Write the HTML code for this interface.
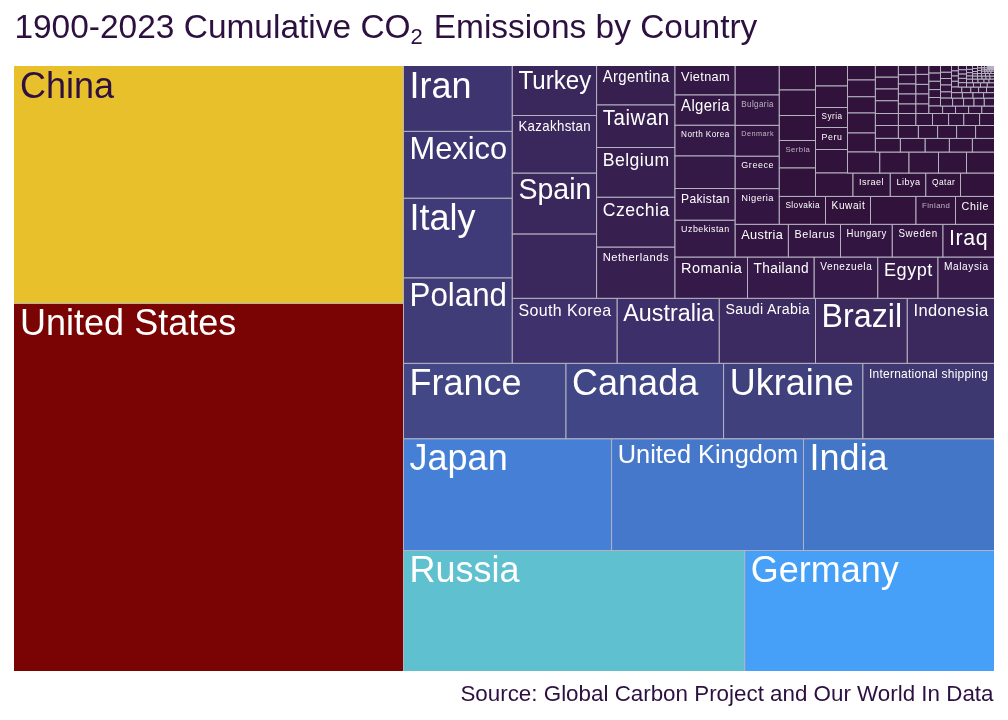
<!DOCTYPE html>
<html lang="en"><head><meta charset="utf-8"><title>1900-2023 Cumulative CO2 Emissions by Country</title>
<style>
html,body{margin:0;padding:0;background:#fff;}
body{width:1008px;height:720px;overflow:hidden;position:relative;font-family:"Liberation Sans",sans-serif;}
svg{position:absolute;left:0;top:0;display:block;will-change:transform;opacity:0.999;}
svg text{font-family:"Liberation Sans",sans-serif;}
.r{stroke:#b4b2c0;stroke-width:1;}
.w{fill:#fff;}
.d{fill:#2d1040;}
</style></head><body>
<svg width="1008" height="720" viewBox="0 0 1008 720">
<rect x="0" y="0" width="1008" height="720" fill="#fff"/>
<text transform="translate(14.4,38.2) scale(1,0.975)" font-size="33.47" class="d">1900-2023 Cumulative CO<tspan font-size="22" dy="5.6">2</tspan><tspan dy="-5.6" dx="1.6"> Emissions by Country</tspan></text>
<text transform="translate(993.5,700.9) scale(1,0.965)" font-size="22.38" text-anchor="end" class="d">Source: Global Carbon Project and Our World In Data</text>
<rect x="987" y="66" width="7" height="4" fill="#b5b0c5"/>
<clipPath id="panel"><rect x="14" y="66" width="980" height="605"/></clipPath>
<g clip-path="url(#panel)">
<rect class="r" x="12.0" y="64.0" width="391.5" height="239.5" fill="#e8c02c"/>
<rect class="r" x="12.0" y="303.5" width="391.5" height="369.5" fill="#7a0403"/>
<rect class="r" x="403.5" y="550.5" width="341.2" height="122.5" fill="#5fc0d0"/>
<rect class="r" x="744.7" y="550.5" width="251.3" height="122.5" fill="#46a0f7"/>
<rect class="r" x="403.5" y="438.7" width="208.1" height="111.8" fill="#4680d6"/>
<rect class="r" x="611.6" y="438.7" width="191.9" height="111.8" fill="#4578cb"/>
<rect class="r" x="803.5" y="438.7" width="192.5" height="111.8" fill="#4476c8"/>
<rect class="r" x="403.5" y="363.3" width="162.5" height="75.4" fill="#434785"/>
<rect class="r" x="566.0" y="363.3" width="157.6" height="75.4" fill="#414687"/>
<rect class="r" x="723.6" y="363.3" width="139.3" height="75.4" fill="#40407d"/>
<rect class="r" x="862.9" y="363.3" width="133.1" height="75.4" fill="#3e3870"/>
<rect class="r" x="403.5" y="64.0" width="108.8" height="67.4" fill="#3d3470"/>
<rect class="r" x="403.5" y="131.4" width="108.8" height="66.9" fill="#3d3672"/>
<rect class="r" x="403.5" y="198.3" width="108.8" height="79.7" fill="#3f3a78"/>
<rect class="r" x="403.5" y="278.0" width="108.8" height="85.3" fill="#403c78"/>
<rect class="r" x="512.3" y="298.3" width="104.9" height="65.0" fill="#3e316c"/>
<rect class="r" x="617.2" y="298.3" width="102.1" height="65.0" fill="#3d2f69"/>
<rect class="r" x="719.3" y="298.3" width="96.2" height="65.0" fill="#3c2b61"/>
<rect class="r" x="815.5" y="298.3" width="91.8" height="65.0" fill="#3c2a5f"/>
<rect class="r" x="907.3" y="298.3" width="88.7" height="65.0" fill="#3b295e"/>
<rect class="r" x="512.3" y="64.0" width="84.3" height="51.5" fill="#3a285c"/>
<rect class="r" x="512.3" y="115.5" width="84.3" height="57.7" fill="#3a285c"/>
<rect class="r" x="512.3" y="173.2" width="84.3" height="60.9" fill="#3a285c"/>
<rect class="r" x="512.3" y="234.1" width="84.3" height="64.2" fill="#3a285c"/>
<rect class="r" x="596.6" y="64.0" width="78.4" height="41.0" fill="#371f50"/>
<rect class="r" x="596.6" y="105.0" width="78.4" height="42.5" fill="#371f50"/>
<rect class="r" x="596.6" y="147.5" width="78.4" height="49.8" fill="#371f50"/>
<rect class="r" x="596.6" y="197.3" width="78.4" height="49.9" fill="#371f50"/>
<rect class="r" x="596.6" y="247.2" width="78.4" height="51.1" fill="#371f50"/>
<rect class="r" x="675.0" y="257.0" width="72.5" height="41.3" fill="#351a49"/>
<rect class="r" x="747.5" y="257.0" width="66.7" height="41.3" fill="#351a49"/>
<rect class="r" x="814.2" y="257.0" width="63.6" height="41.3" fill="#351a49"/>
<rect class="r" x="877.8" y="257.0" width="60.2" height="41.3" fill="#351a49"/>
<rect class="r" x="938.0" y="257.0" width="58.0" height="41.3" fill="#351a49"/>
<rect class="r" x="675.0" y="64.0" width="60.2" height="31.0" fill="#341846"/>
<rect class="r" x="675.0" y="95.0" width="60.2" height="30.3" fill="#341846"/>
<rect class="r" x="675.0" y="125.3" width="60.2" height="30.7" fill="#341846"/>
<rect class="r" x="675.0" y="156.0" width="60.2" height="32.5" fill="#341846"/>
<rect class="r" x="675.0" y="188.5" width="60.2" height="31.8" fill="#341846"/>
<rect class="r" x="675.0" y="220.3" width="60.2" height="36.7" fill="#341846"/>
<rect class="r" x="735.2" y="224.3" width="53.2" height="32.7" fill="#321540"/>
<rect class="r" x="788.4" y="224.3" width="52.1" height="32.7" fill="#321540"/>
<rect class="r" x="840.5" y="224.3" width="51.8" height="32.7" fill="#321540"/>
<rect class="r" x="892.3" y="224.3" width="50.7" height="32.7" fill="#321540"/>
<rect class="r" x="943.0" y="224.3" width="53.0" height="32.7" fill="#321540"/>
<rect class="r" x="735.2" y="64.0" width="44.1" height="31.0" fill="#321540"/>
<rect class="r" x="735.2" y="95.0" width="44.1" height="30.4" fill="#321540"/>
<rect class="r" x="735.2" y="125.4" width="44.1" height="30.9" fill="#321540"/>
<rect class="r" x="735.2" y="156.3" width="44.1" height="32.4" fill="#321540"/>
<rect class="r" x="735.2" y="188.7" width="44.1" height="35.6" fill="#321540"/>
<rect class="r" x="779.3" y="196.4" width="46.2" height="27.9" fill="#30123b"/>
<rect class="r" x="825.5" y="196.4" width="45.0" height="27.9" fill="#30123b"/>
<rect class="r" x="870.5" y="196.4" width="45.5" height="27.9" fill="#30123b"/>
<rect class="r" x="916.0" y="196.4" width="39.5" height="27.9" fill="#30123b"/>
<rect class="r" x="955.5" y="196.4" width="40.5" height="27.9" fill="#30123b"/>
<rect class="r" x="779.3" y="64.0" width="36.2" height="26.0" fill="#30123b"/>
<rect class="r" x="779.3" y="90.0" width="36.2" height="25.5" fill="#30123b"/>
<rect class="r" x="779.3" y="115.5" width="36.2" height="25.0" fill="#30123b"/>
<rect class="r" x="779.3" y="140.5" width="36.2" height="27.5" fill="#30123b"/>
<rect class="r" x="779.3" y="168.0" width="36.2" height="28.4" fill="#30123b"/>
<rect class="r" x="815.5" y="64.0" width="32.0" height="22.0" fill="#30123b"/>
<rect class="r" x="815.5" y="86.0" width="32.0" height="21.5" fill="#30123b"/>
<rect class="r" x="815.5" y="107.5" width="32.0" height="20.0" fill="#30123b"/>
<rect class="r" x="815.5" y="127.5" width="32.0" height="22.0" fill="#30123b"/>
<rect class="r" x="815.5" y="149.5" width="32.0" height="23.5" fill="#30123b"/>
<rect class="r" x="815.5" y="173.0" width="37.5" height="23.4" fill="#30123b"/>
<rect class="r" x="853.0" y="173.0" width="37.3" height="23.4" fill="#30123b"/>
<rect class="r" x="890.3" y="173.0" width="35.5" height="23.4" fill="#30123b"/>
<rect class="r" x="925.8" y="173.0" width="34.7" height="23.4" fill="#30123b"/>
<rect class="r" x="960.5" y="173.0" width="35.5" height="23.4" fill="#30123b"/>
<rect class="r" x="847.5" y="64.0" width="27.9" height="16.0" fill="#30123b"/>
<rect class="r" x="847.5" y="80.0" width="27.9" height="16.8" fill="#30123b"/>
<rect class="r" x="847.5" y="96.8" width="27.9" height="16.2" fill="#30123b"/>
<rect class="r" x="847.5" y="113.0" width="27.9" height="20.0" fill="#30123b"/>
<rect class="r" x="847.5" y="133.0" width="27.9" height="19.0" fill="#30123b"/>
<rect class="r" x="847.5" y="152.0" width="32.3" height="21.0" fill="#30123b"/>
<rect class="r" x="879.8" y="152.0" width="29.2" height="21.0" fill="#30123b"/>
<rect class="r" x="909.0" y="152.0" width="29.5" height="21.0" fill="#30123b"/>
<rect class="r" x="938.5" y="152.0" width="28.0" height="21.0" fill="#30123b"/>
<rect class="r" x="966.5" y="152.0" width="29.5" height="21.0" fill="#30123b"/>
<rect class="r" x="875.4" y="64.0" width="23.0" height="13.2" fill="#30123b"/>
<rect class="r" x="875.4" y="77.2" width="23.0" height="11.8" fill="#30123b"/>
<rect class="r" x="875.4" y="89.0" width="23.0" height="11.8" fill="#30123b"/>
<rect class="r" x="875.4" y="100.8" width="23.0" height="12.7" fill="#30123b"/>
<rect class="r" x="875.4" y="113.5" width="23.0" height="12.0" fill="#30123b"/>
<rect class="r" x="875.4" y="125.5" width="23.0" height="12.9" fill="#30123b"/>
<rect class="r" x="875.4" y="138.4" width="25.0" height="13.6" fill="#30123b"/>
<rect class="r" x="900.4" y="138.4" width="24.8" height="13.6" fill="#30123b"/>
<rect class="r" x="925.2" y="138.4" width="24.2" height="13.6" fill="#30123b"/>
<rect class="r" x="949.4" y="138.4" width="23.0" height="13.6" fill="#30123b"/>
<rect class="r" x="972.4" y="138.4" width="23.6" height="13.6" fill="#30123b"/>
<rect class="r" x="898.4" y="125.5" width="20.0" height="12.9" fill="#30123b"/>
<rect class="r" x="918.4" y="125.5" width="19.2" height="12.9" fill="#30123b"/>
<rect class="r" x="937.6" y="125.5" width="19.0" height="12.9" fill="#30123b"/>
<rect class="r" x="956.6" y="125.5" width="19.0" height="12.9" fill="#30123b"/>
<rect class="r" x="975.6" y="125.5" width="20.4" height="12.9" fill="#30123b"/>
<rect class="r" x="898.4" y="113.5" width="17.5" height="12.0" fill="#30123b"/>
<rect class="r" x="915.9" y="113.5" width="16.6" height="12.0" fill="#30123b"/>
<rect class="r" x="932.5" y="113.5" width="16.1" height="12.0" fill="#30123b"/>
<rect class="r" x="948.6" y="113.5" width="15.2" height="12.0" fill="#30123b"/>
<rect class="r" x="963.8" y="113.5" width="15.8" height="12.0" fill="#30123b"/>
<rect class="r" x="979.6" y="113.5" width="16.4" height="12.0" fill="#30123b"/>
<rect class="r" x="898.4" y="64.0" width="17.5" height="10.8" fill="#30123b"/>
<rect class="r" x="898.4" y="74.8" width="17.5" height="9.2" fill="#30123b"/>
<rect class="r" x="898.4" y="84.0" width="17.5" height="10.0" fill="#30123b"/>
<rect class="r" x="898.4" y="94.0" width="17.5" height="10.0" fill="#30123b"/>
<rect class="r" x="898.4" y="104.0" width="17.5" height="9.5" fill="#30123b"/>
<rect class="r" x="915.9" y="64.0" width="13.0" height="10.4" fill="#30123b"/>
<rect class="r" x="915.9" y="74.4" width="13.0" height="10.0" fill="#30123b"/>
<rect class="r" x="915.9" y="84.4" width="13.0" height="9.6" fill="#30123b"/>
<rect class="r" x="915.9" y="94.0" width="13.0" height="10.0" fill="#30123b"/>
<rect class="r" x="915.9" y="104.0" width="13.0" height="9.5" fill="#30123b"/>
<rect class="r" x="928.9" y="64.0" width="11.6" height="9.1" fill="#30123b"/>
<rect class="r" x="928.9" y="73.1" width="11.6" height="8.2" fill="#30123b"/>
<rect class="r" x="928.9" y="81.3" width="11.6" height="8.3" fill="#30123b"/>
<rect class="r" x="928.9" y="89.6" width="11.6" height="7.9" fill="#30123b"/>
<rect class="r" x="928.9" y="97.5" width="11.6" height="8.5" fill="#30123b"/>
<rect class="r" x="928.9" y="106.0" width="13.7" height="7.5" fill="#30123b"/>
<rect class="r" x="942.6" y="106.0" width="12.9" height="7.5" fill="#30123b"/>
<rect class="r" x="955.5" y="106.0" width="13.1" height="7.5" fill="#30123b"/>
<rect class="r" x="968.6" y="106.0" width="13.2" height="7.5" fill="#30123b"/>
<rect class="r" x="981.8" y="106.0" width="14.2" height="7.5" fill="#30123b"/>
<rect class="r" x="940.5" y="64.0" width="11.0" height="8.3" fill="#30123b"/>
<rect class="r" x="940.5" y="72.3" width="11.0" height="6.2" fill="#30123b"/>
<rect class="r" x="940.5" y="78.5" width="11.0" height="6.5" fill="#30123b"/>
<rect class="r" x="940.5" y="85.0" width="11.0" height="6.9" fill="#30123b"/>
<rect class="r" x="940.5" y="91.9" width="11.0" height="6.2" fill="#30123b"/>
<rect class="r" x="940.5" y="98.1" width="12.1" height="7.9" fill="#30123b"/>
<rect class="r" x="952.6" y="98.1" width="11.0" height="7.9" fill="#30123b"/>
<rect class="r" x="963.6" y="98.1" width="10.4" height="7.9" fill="#30123b"/>
<rect class="r" x="974.0" y="98.1" width="10.3" height="7.9" fill="#30123b"/>
<rect class="r" x="984.3" y="98.1" width="11.7" height="7.9" fill="#30123b"/>
<rect class="r" x="951.5" y="64.0" width="6.9" height="6.9" fill="#30123b"/>
<rect class="r" x="951.5" y="70.9" width="6.9" height="5.1" fill="#30123b"/>
<rect class="r" x="951.5" y="76.0" width="6.9" height="5.3" fill="#30123b"/>
<rect class="r" x="951.5" y="81.3" width="6.9" height="5.7" fill="#30123b"/>
<rect class="r" x="951.5" y="92.6" width="10.9" height="5.5" fill="#30123b"/>
<rect class="r" x="962.4" y="92.6" width="10.6" height="5.5" fill="#30123b"/>
<rect class="r" x="973.0" y="92.6" width="10.6" height="5.5" fill="#30123b"/>
<rect class="r" x="983.6" y="92.6" width="12.4" height="5.5" fill="#30123b"/>
<rect class="r" x="951.5" y="87.0" width="10.3" height="5.6" fill="#30123b"/>
<rect class="r" x="961.8" y="87.0" width="9.0" height="5.6" fill="#30123b"/>
<rect class="r" x="970.8" y="87.0" width="7.8" height="5.6" fill="#30123b"/>
<rect class="r" x="978.6" y="87.0" width="7.9" height="5.6" fill="#30123b"/>
<rect class="r" x="986.5" y="87.0" width="9.5" height="5.6" fill="#30123b"/>
<rect class="r" x="958.4" y="64.0" width="8.1" height="5.8" fill="#30123b"/>
<rect class="r" x="958.4" y="69.8" width="8.1" height="4.3" fill="#30123b"/>
<rect class="r" x="958.4" y="74.1" width="8.1" height="4.3" fill="#30123b"/>
<rect class="r" x="958.4" y="78.4" width="8.1" height="4.3" fill="#30123b"/>
<rect class="r" x="958.4" y="82.7" width="8.1" height="4.3" fill="#30123b"/>
<rect class="r" x="966.5" y="82.7" width="7.0" height="4.3" fill="#30123b"/>
<rect class="r" x="973.5" y="82.7" width="7.0" height="4.3" fill="#30123b"/>
<rect class="r" x="980.5" y="82.7" width="6.8" height="4.3" fill="#30123b"/>
<rect class="r" x="987.3" y="82.7" width="8.7" height="4.3" fill="#30123b"/>
<rect class="r" x="966.5" y="79.0" width="6.0" height="3.7" fill="#30123b"/>
<rect class="r" x="972.5" y="79.0" width="5.5" height="3.7" fill="#30123b"/>
<rect class="r" x="978.0" y="79.0" width="6.0" height="3.7" fill="#30123b"/>
<rect class="r" x="984.0" y="79.0" width="5.0" height="3.7" fill="#30123b"/>
<rect class="r" x="989.0" y="79.0" width="7.0" height="3.7" fill="#30123b"/>
<rect class="r" x="966.5" y="64.0" width="6.0" height="5.4" fill="#30123b"/>
<rect class="r" x="966.5" y="69.4" width="6.0" height="3.3" fill="#30123b"/>
<rect class="r" x="966.5" y="72.7" width="6.0" height="3.3" fill="#30123b"/>
<rect class="r" x="966.5" y="76.0" width="6.0" height="3.0" fill="#30123b"/>
<rect class="r" x="972.5" y="76.0" width="5.0" height="3.0" fill="#30123b"/>
<rect class="r" x="977.5" y="76.0" width="4.5" height="3.0" fill="#30123b"/>
<rect class="r" x="982.0" y="76.0" width="4.0" height="3.0" fill="#30123b"/>
<rect class="r" x="986.0" y="76.0" width="4.0" height="3.0" fill="#30123b"/>
<rect class="r" x="990.0" y="76.0" width="6.0" height="3.0" fill="#30123b"/>
<rect class="r" x="972.5" y="64.0" width="5.0" height="4.5" fill="#30123b"/>
<rect class="r" x="972.5" y="68.5" width="5.0" height="3.0" fill="#30123b"/>
<rect class="r" x="972.5" y="71.5" width="5.0" height="2.3" fill="#30123b"/>
<rect class="r" x="972.5" y="73.8" width="5.0" height="2.2" fill="#30123b"/>
<rect class="r" x="977.5" y="73.5" width="4.0" height="2.5" fill="#30123b"/>
<rect class="r" x="981.5" y="73.5" width="4.0" height="2.5" fill="#30123b"/>
<rect class="r" x="985.5" y="73.5" width="4.0" height="2.5" fill="#30123b"/>
<rect class="r" x="989.5" y="73.5" width="6.5" height="2.5" fill="#30123b"/>
<rect class="r" x="977.5" y="64.0" width="4.0" height="4.0" fill="#30123b"/>
<rect class="r" x="977.5" y="68.0" width="4.0" height="2.5" fill="#30123b"/>
<rect class="r" x="977.5" y="70.5" width="4.0" height="3.0" fill="#30123b"/>
<rect class="r" x="981.5" y="71.0" width="3.5" height="2.5" fill="#30123b"/>
<rect class="r" x="985.0" y="71.0" width="3.0" height="2.5" fill="#30123b"/>
<rect class="r" x="988.0" y="71.0" width="3.0" height="2.5" fill="#30123b"/>
<rect class="r" x="991.0" y="71.0" width="5.0" height="2.5" fill="#30123b"/>
<rect class="r" x="981.5" y="64.0" width="3.0" height="3.5" fill="#30123b"/>
<rect class="r" x="981.5" y="67.5" width="3.0" height="1.7" fill="#30123b"/>
<rect class="r" x="981.5" y="69.2" width="3.0" height="1.8" fill="#30123b"/>
<rect class="r" x="984.5" y="69.6" width="2.5" height="1.4" fill="#30123b"/>
<rect class="r" x="987.0" y="69.6" width="2.5" height="1.4" fill="#30123b"/>
<rect class="r" x="989.5" y="69.6" width="2.5" height="1.4" fill="#30123b"/>
<rect class="r" x="992.0" y="69.6" width="4.0" height="1.4" fill="#30123b"/>
<rect class="r" x="984.5" y="64.0" width="2.7" height="3.8" fill="#30123b"/>
<rect class="r" x="984.5" y="67.8" width="2.7" height="1.8" fill="#30123b"/>
</g>
<text transform="translate(20.1,97.6) scale(1,1.047)" font-size="36.00" class="d">China</text>
<text transform="translate(20.1,335.1) scale(1,1.047)" font-size="36.00" class="w">United States</text>
<text transform="translate(409.6,582.1) scale(1,1.047)" font-size="36.00" class="w">Russia</text>
<text transform="translate(750.8,582.1) scale(1,1.047)" font-size="36.00" class="w">Germany</text>
<text transform="translate(409.6,470.3) scale(1,1.047)" font-size="36.00" class="w">Japan</text>
<text transform="translate(617.7,462.6) scale(1,1.047)" font-size="25.38" class="w">United Kingdom</text>
<text transform="translate(809.6,470.3) scale(1,1.047)" font-size="36.00" class="w">India</text>
<text transform="translate(409.6,394.9) scale(1,1.047)" font-size="36.00" class="w">France</text>
<text transform="translate(572.1,394.9) scale(1,1.047)" font-size="36.00" class="w">Canada</text>
<text transform="translate(729.7,394.9) scale(1,1.047)" font-size="36.00" class="w">Ukraine</text>
<text transform="translate(869.0,377.6) scale(1,1.047)" font-size="11.97" class="w" letter-spacing="0.24">International shipping</text>
<text transform="translate(409.6,97.6) scale(1,1.047)" font-size="36.00" class="w">Iran</text>
<text transform="translate(409.6,159.2) scale(1,1.047)" font-size="30.77" class="w">Mexico</text>
<text transform="translate(409.6,229.9) scale(1,1.047)" font-size="36.00" class="w">Italy</text>
<text transform="translate(409.6,306.2) scale(1,1.047)" font-size="31.30" class="w">Poland</text>
<text transform="translate(518.4,315.5) scale(1,1.047)" font-size="15.99" class="w" letter-spacing="0.40">South Korea</text>
<text transform="translate(623.3,320.8) scale(1,1.047)" font-size="23.33" class="w">Australia</text>
<text transform="translate(725.4,314.2) scale(1,1.047)" font-size="14.22" class="w" letter-spacing="0.33">Saudi Arabia</text>
<text transform="translate(821.6,327.1) scale(1,1.047)" font-size="32.18" class="w">Brazil</text>
<text transform="translate(913.4,315.9) scale(1,1.047)" font-size="16.51" class="w" letter-spacing="0.40">Indonesia</text>
<text transform="translate(518.4,89.1) scale(1,1.047)" font-size="24.17" class="w">Turkey</text>
<text transform="translate(518.4,130.7) scale(1,1.047)" font-size="13.26" class="w" letter-spacing="0.34">Kazakhstan</text>
<text transform="translate(518.4,199.4) scale(1,1.047)" font-size="28.53" class="w">Spain</text>
<text transform="translate(602.7,82.4) scale(1,1.047)" font-size="14.88" class="w" letter-spacing="0.36">Argentina</text>
<text transform="translate(602.7,125.4) scale(1,1.047)" font-size="20.47" class="w" letter-spacing="0.57">Taiwan</text>
<text transform="translate(602.7,165.9) scale(1,1.047)" font-size="17.63" class="w" letter-spacing="0.48">Belgium</text>
<text transform="translate(602.7,215.7) scale(1,1.047)" font-size="17.63" class="w" letter-spacing="0.48">Czechia</text>
<text transform="translate(602.7,260.9) scale(1,1.047)" font-size="11.19" class="w" letter-spacing="0.57">Netherlands</text>
<text transform="translate(681.1,273.1) scale(1,1.047)" font-size="14.52" class="w" letter-spacing="0.43">Romania</text>
<text transform="translate(753.6,272.5) scale(1,1.047)" font-size="13.71" class="w" letter-spacing="0.34">Thailand</text>
<text transform="translate(820.3,269.9) scale(1,1.047)" font-size="10.07" class="w" letter-spacing="0.56">Venezuela</text>
<text transform="translate(883.9,275.7) scale(1,1.047)" font-size="18.15" class="w" letter-spacing="0.52">Egypt</text>
<text transform="translate(944.1,270.0) scale(1,1.047)" font-size="10.19" class="w" letter-spacing="0.54">Malaysia</text>
<text transform="translate(681.1,80.8) scale(1,1.047)" font-size="12.72" class="w" letter-spacing="0.35">Vietnam</text>
<text transform="translate(681.1,111.4) scale(1,1.047)" font-size="14.91" class="w" letter-spacing="0.35">Algeria</text>
<text transform="translate(681.1,136.8) scale(1,1.047)" font-size="8.16" class="w" letter-spacing="0.42">North Korea</text>
<text transform="translate(681.1,202.9) scale(1,1.047)" font-size="12.10" class="w" letter-spacing="0.30">Pakistan</text>
<text transform="translate(681.1,232.4) scale(1,1.047)" font-size="8.89" class="w" letter-spacing="0.46">Uzbekistan</text>
<text transform="translate(741.3,239.2) scale(1,1.047)" font-size="12.78" class="w" letter-spacing="0.30">Austria</text>
<text transform="translate(794.5,237.8) scale(1,1.047)" font-size="10.82" class="w" letter-spacing="0.58">Belarus</text>
<text transform="translate(846.6,236.9) scale(1,1.047)" font-size="9.63" class="w" letter-spacing="0.57">Hungary</text>
<text transform="translate(898.4,237.0) scale(1,1.047)" font-size="9.80" class="w" letter-spacing="0.67">Sweden</text>
<text transform="translate(949.1,245.3) scale(1,1.047)" font-size="21.36" class="w" letter-spacing="0.55">Iraq</text>
<text transform="translate(741.3,106.5) scale(1,1.047)" font-size="8.04" class="w" letter-spacing="0.40" opacity="0.66">Bulgaria</text>
<text transform="translate(741.3,136.3) scale(1,1.047)" font-size="7.27" class="w" letter-spacing="0.46" opacity="0.66">Denmark</text>
<text transform="translate(741.3,168.4) scale(1,1.047)" font-size="8.99" class="w" letter-spacing="0.56">Greece</text>
<text transform="translate(741.3,201.1) scale(1,1.047)" font-size="9.31" class="w" letter-spacing="0.46">Nigeria</text>
<text transform="translate(785.4,208.0) scale(1,1.047)" font-size="8.30" class="w" letter-spacing="0.42">Slovakia</text>
<text transform="translate(831.6,209.3) scale(1,1.047)" font-size="10.09" class="w" letter-spacing="0.57">Kuwait</text>
<text transform="translate(922.1,207.6) scale(1,1.047)" font-size="7.73" class="w" letter-spacing="0.40" opacity="0.66">Finland</text>
<text transform="translate(961.6,209.8) scale(1,1.047)" font-size="10.73" class="w" letter-spacing="0.58">Chile</text>
<text transform="translate(785.4,151.7) scale(1,1.047)" font-size="7.74" class="w" letter-spacing="0.42" opacity="0.66">Serbia</text>
<text transform="translate(821.6,119.0) scale(1,1.047)" font-size="8.16" class="w" letter-spacing="0.44">Syria</text>
<text transform="translate(821.6,139.5) scale(1,1.047)" font-size="8.80" class="w" letter-spacing="0.59">Peru</text>
<text transform="translate(859.1,185.2) scale(1,1.047)" font-size="9.09" class="w" letter-spacing="0.42">Israel</text>
<text transform="translate(896.4,185.2) scale(1,1.047)" font-size="9.10" class="w" letter-spacing="0.51">Libya</text>
<text transform="translate(931.9,184.7) scale(1,1.047)" font-size="8.41" class="w" letter-spacing="0.50">Qatar</text>
</svg>
</body></html>
